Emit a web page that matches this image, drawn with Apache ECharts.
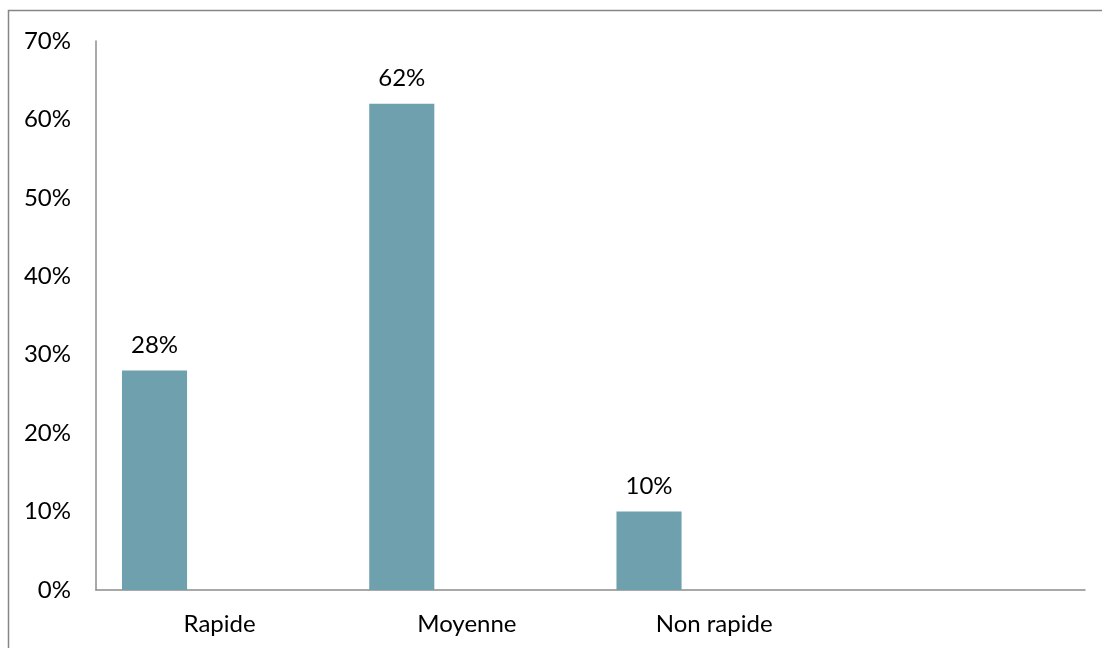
<!DOCTYPE html>
<html>
<head>
<meta charset="utf-8">
<script src="https://cdn.jsdelivr.net/npm/echarts@6/dist/echarts.min.js"></script>
<style>
html,body{margin:0;padding:0;background:#fff;}
#main{width:1102px;height:648px;}
</style>
</head>
<body>
<div id="main"></div>
<script>
var categories = ['Rapide', 'Moyenne', 'Non rapide', ''];
var seriesValues = [28, 62, 10, null];
var emptyValues1 = [null, null, null, null];
var emptyValues2 = [null, null, null, null];
var yTicks = [0, 10, 20, 30, 40, 50, 60, 70];

var chart = echarts.init(document.getElementById('main'), null, {renderer: 'canvas'});
var fontFamily = 'Lato, "Open Sans", sans-serif';
chart.setOption({
  animation: false,
  graphic: [{
    type: 'rect',
    shape: {x: 8.5, y: 10.5, width: 1200, height: 700},
    style: {fill: 'none', stroke: '#868686', lineWidth: 1.5},
    silent: true
  }],
  grid: {left: 96, right: 17, top: 41, bottom: 58},
  xAxis: {
    type: 'category',
    data: categories,
    axisLine: {lineStyle: {color: '#8c8c8c', width: 1.5}},
    axisTick: {show: false},
    axisLabel: {color: '#000', fontSize: 24, fontFamily: fontFamily, margin: 22}
  },
  yAxis: {
    type: 'value',
    min: yTicks[0],
    max: yTicks[yTicks.length - 1],
    interval: 10,
    axisLine: {show: true, lineStyle: {color: '#8c8c8c', width: 1.5}},
    axisTick: {show: false},
    splitLine: {show: false},
    axisLabel: {color: '#000', fontSize: 24, fontFamily: fontFamily, margin: 25,
      formatter: function (v) { return v + '%'; }}
  },
  series: [
    {
      type: 'bar',
      data: seriesValues,
      barGap: '0%',
      barCategoryGap: '21%',
      itemStyle: {color: '#6fa0ae'},
      label: {show: true, position: 'top', distance: 13, color: '#000', fontSize: 24,
        fontFamily: fontFamily, formatter: function (p) { return p.value + '%'; }}
    },
    {type: 'bar', data: emptyValues1, barGap: '0%', barCategoryGap: '21%'},
    {type: 'bar', data: emptyValues2, barGap: '0%', barCategoryGap: '21%'}
  ]
});
</script>
</body>
</html>
